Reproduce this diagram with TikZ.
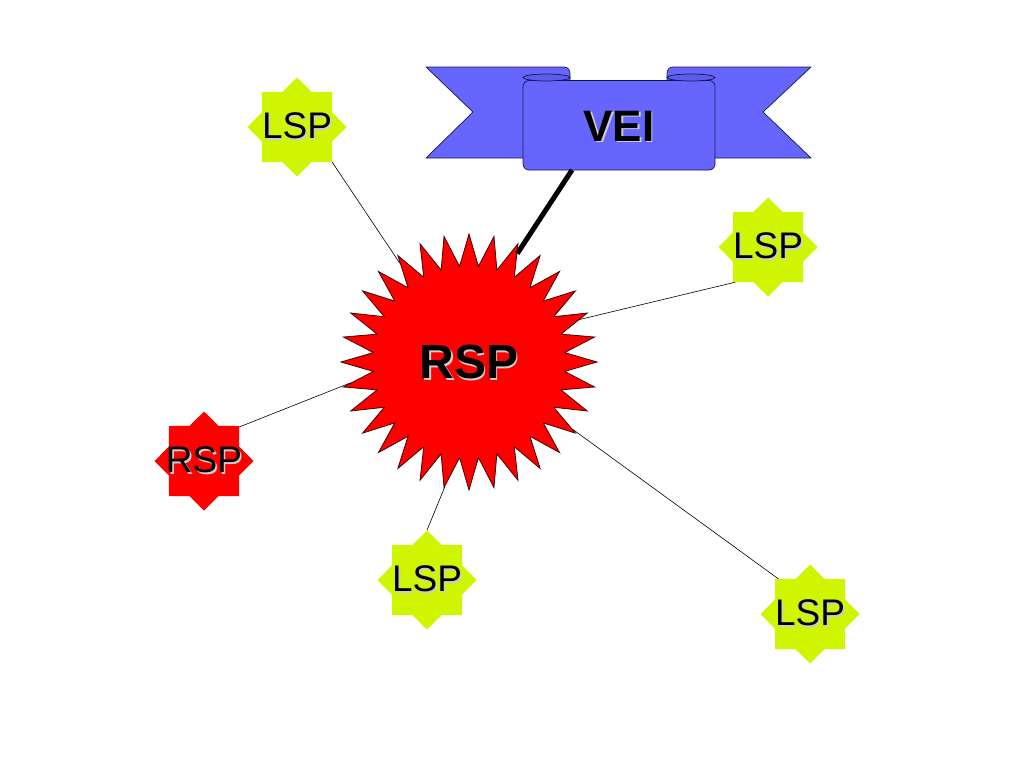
\documentclass[tikz,border=0pt]{standalone}
\usepackage{fontspec}
\setmainfont{Liberation Sans}
\usetikzlibrary{shapes.geometric}
\definecolor{lime}{RGB}{208,245,0}
\definecolor{ribbon}{RGB}{102,102,255}
\definecolor{ribbondark}{RGB}{92,92,235}
\definecolor{navy}{RGB}{20,20,80}
\definecolor{shadowc}{RGB}{205,205,205}
\newcommand{\shd}[1]{\makebox[0pt][l]{\kern1.6pt\raisebox{-1.6pt}{\textcolor{shadowc}{#1}}}#1}
\begin{document}
\begin{tikzpicture}[x=1pt,y=-1pt,
  smallstar/.style={star, star points=8, star point ratio=1.306, minimum size=99, inner sep=0, draw=none},
  lspstar/.style={smallstar, fill=lime},
  rspstar/.style={smallstar, fill=red},
  bigstar/.style={star, star points=32, star point ratio=1.333, minimum size=256, inner sep=0, fill=red, draw=black!75!red, line width=0.8},
  lbl/.style={inner sep=0, font=\fontsize{37}{40}\selectfont},
  biglbl/.style={inner sep=0, font=\bfseries\fontsize{48}{52}\selectfont},
  veilbl/.style={inner sep=0, font=\bfseries\fontsize{44}{48}\selectfont},
  link/.style={draw=black, line width=0.6},
  thicklink/.style={draw=black, line width=5},
  ribbonpart/.style={fill=ribbon, draw=navy, line width=0.7, line join=round},
  curlfront/.style={fill=ribbondark, draw=navy, line width=0.7}]
\useasboundingbox (0,0) rectangle (1024,768);

% ribbon tails with rolled ends
\draw[ribbonpart] (426,67) -- (564,67) .. controls (568,67) and (570,70) .. (570,74) -- (570,158) -- (426,158) -- (473,112) -- cycle;
\draw[ribbonpart] (811,67) -- (673,67) .. controls (669,67) and (667,70) .. (667,74) -- (667,158) -- (811,158) -- (763,112) -- cycle;
% central panel
\draw[ribbonpart, rounded corners=6] (523,80.5) -- (523,170) -- (715,170) -- (715,80.5) -- cycle;
\draw[curlfront] (546.5,77.5) ellipse [x radius=23.5, y radius=3.5];
\draw[curlfront] (691,77.5) ellipse [x radius=24, y radius=3.5];
\node[veilbl] (vei) at (619,127) {\shd{VEI}};
\coordinate (veib) at (572,170);

% stars
\node[bigstar] (big) at (469,362) {};
\node[biglbl] (bigt) at (469,363) {\shd{RSP}};

\node[lspstar] (l1) at (297,127) {};
\node[lbl] (l1t) at (l1) {\shd{LSP}};
\node[lspstar] (l2) at (768,247) {};
\node[lbl] (l2t) at (l2) {\shd{LSP}};
\node[lspstar] (l3) at (427,580) {};
\node[lbl] (l3t) at (l3) {\shd{LSP}};
\node[lspstar] (l4) at (810,614) {};
\node[lbl] (l4t) at (l4) {\shd{LSP}};
\node[rspstar] (r2) at (204,461) {};
\node[lbl] (r2t) at (r2) {\shd{RSP}};

% connectors
\draw[thicklink] (veib) -- (big.66);
\draw[link] (l1.315) -- (big.125);
\draw[link] (l2.227) -- (big.21);
\draw[link] (r2.44) -- (big.190);
\draw[link] (l3.90) -- (big.259);
\draw[link] (l4.132) -- (big.327);
\end{tikzpicture}
\end{document}
